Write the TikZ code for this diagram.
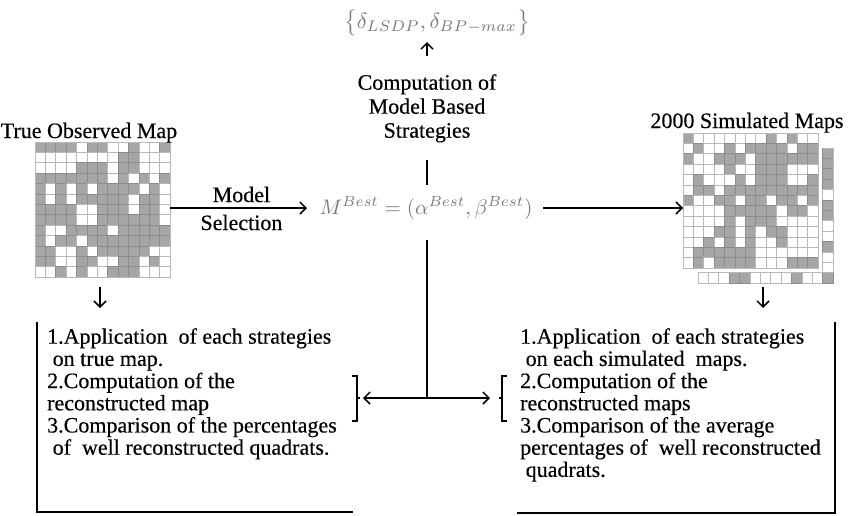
\documentclass[tikz,border=0pt]{standalone}
\usepackage{fontspec}
\setmainfont{Liberation Serif}[FakeBold=0.35]
\usetikzlibrary{arrows.meta}
\definecolor{cellgray}{HTML}{A6A6A6}
\definecolor{mathgray}{HTML}{7A7A7A}
\newcommand{\cellsz}{10.385}
\newcommand{\drawmap}[3]{%
  \foreach \row [count=\r from 0] in {#3} {
    \foreach \v [count=\k from 0] in \row {
      \ifnum\v=1
        \path[cellon] ({#1+\k*\cellsz},{#2+\r*\cellsz}) rectangle ++(\cellsz,\cellsz);
      \else
        \path[celloff] ({#1+\k*\cellsz},{#2+\r*\cellsz}) rectangle ++(\cellsz,\cellsz);
      \fi
    }
  }
}
\tikzset{
  arr/.style={line width=1.5pt, -{Straight Barb[length=6pt,width=12pt,line width=1.5pt]}},
  ln/.style={line width=1.5pt},
  brk/.style={line width=1.2pt},
  celloff/.style={fill=white, draw=black!28, line width=0.7pt},
  cellon/.style={fill=cellgray, draw=black!45, line width=0.7pt},
  lbl/.style={font=\fontsize{22}{24}\selectfont, inner sep=0pt},
  boxtxt/.style={font=\fontsize{22}{22.2}\selectfont, inner sep=0pt, align=left, anchor=north west},
  mth/.style={font=\normalsize, text=mathgray, inner sep=0pt},
  mapbox/.style={minimum width=135pt, minimum height=135pt, inner sep=0pt, anchor=north west},
}
\begin{document}
\begin{tikzpicture}[x=1pt,y=-1pt]
\useasboundingbox (0,0) rectangle (852,515);
\fill[white] (0,0) rectangle (852,515);

% ---- left map
\node[mapbox] (lmap) at (35,142) {};
\drawmap{35}{142}{{1,1,1,1,0,1,1,0,0,1,0,0,1},
{0,0,0,0,0,0,0,0,1,1,0,0,0},
{0,0,0,0,1,1,1,0,1,1,0,0,0},
{1,1,1,1,1,1,1,0,1,0,1,0,1},
{1,0,1,0,1,0,1,1,1,1,0,1,0},
{1,0,1,0,1,1,1,1,1,0,1,1,0},
{1,1,1,1,0,0,1,1,1,0,1,1,0},
{1,1,1,1,0,0,1,1,1,1,1,1,0},
{1,0,0,1,1,1,1,0,1,1,1,1,1},
{1,0,1,1,0,1,1,1,1,1,1,1,1},
{1,1,0,0,1,0,1,1,1,1,1,0,0},
{1,1,0,0,1,1,0,0,1,1,0,1,0},
{0,0,1,0,1,0,0,1,1,1,0,0,0}}
\draw[black!28, line width=0.8pt] (lmap.north west) rectangle (lmap.south east);
\node[lbl, anchor=base] (ltitle) at (89,138) {True Observed Map};

% ---- right maps (back one: visible column and row)
\foreach \v [count=\r from 0] in {1,1,1,1,0,1,1,0,0,1,0,0,1} {
  \ifnum\v=1
    \path[cellon] ({698+12*\cellsz},{148+\r*\cellsz}) rectangle ++(\cellsz,\cellsz);
  \else
    \path[celloff] ({698+12*\cellsz},{148+\r*\cellsz}) rectangle ++(\cellsz,\cellsz);
  \fi
}
\foreach \v [count=\k from 0] in {0,0,0,1,1,0,0,0,0,1,0,0,1} {
  \ifnum\v=1
    \path[cellon] ({698+\k*\cellsz},{148+12*\cellsz}) rectangle ++(\cellsz,\cellsz);
  \else
    \path[celloff] ({698+\k*\cellsz},{148+12*\cellsz}) rectangle ++(\cellsz,\cellsz);
  \fi
}
\draw[black!28, line width=0.8pt] (698,{148+12*\cellsz}) -| (833,148) -- ({698+12*\cellsz},148);
\node[mapbox] (rmap) at (683,133) {};
\drawmap{683}{133}{{1,0,0,0,0,0,0,0,1,0,1,0,0},
{0,1,0,0,1,0,1,1,1,1,0,1,1},
{1,0,0,1,1,1,0,1,1,1,1,1,1},
{0,0,0,0,1,0,0,1,1,1,0,0,0},
{0,1,0,0,0,1,0,1,1,1,0,0,1},
{0,1,1,0,1,1,1,1,1,1,1,1,1},
{1,0,0,1,1,0,1,1,0,1,1,0,1},
{0,0,0,0,1,1,1,1,1,0,1,1,0},
{0,0,0,0,1,0,1,1,1,0,0,0,0},
{0,0,0,1,1,0,1,0,1,1,0,0,0},
{0,0,1,0,1,0,1,0,0,1,0,0,0},
{0,1,1,1,1,1,1,0,0,0,0,0,0},
{0,1,0,1,1,1,1,0,0,0,1,1,1}}
\draw[black!28, line width=0.8pt] (rmap.north west) rectangle (rmap.south east);
\node[lbl, anchor=base] (rtitle) at (747,128) {2000 Simulated Maps};

% ---- centre column
\node[mth, scale=2.2] (delta) at (437,22.5) {$\bigl\{\delta_{LSDP},\delta_{BP-max}\bigr\}$};
\node[lbl, align=center, anchor=north] (comp) at (427,74) {Computation of\\Model Based\\Strategies};
\node[mth, scale=2.1] (mbest) at (426,208) {$M^{Best}=(\alpha^{Best},\beta^{Best})$};
\coordinate (upA) at (427,56);
\coordinate (upB) at (427,42);
\coordinate (sA) at (427,160);
\coordinate (sB) at (427,185);
\coordinate (sC) at (427,240);
\coordinate (sD) at (427,398);
\draw[arr] (upA) -- (upB);
\draw[ln] (sA) -- (sB);
\draw[ln] (sC) -- (sD);

% ---- model selection arrow
\coordinate (msEnd) at (307,208);
\draw[arr] (lmap.east |- msEnd) -- (msEnd) node[lbl, pos=0.52, above=5pt] (msA) {Model} node[lbl, pos=0.52, below=6pt] (msB) {Selection};
\coordinate (rStart) at (543,208);
\draw[arr] (rStart) -- (rStart -| rmap.west);

% ---- down arrows
\coordinate (ldA) at (100,287);
\coordinate (ldB) at (100,308);
\draw[arr] (ldA) -- (ldB);
\coordinate (rdA) at (763,287);
\coordinate (rdB) at (763,308);
\draw[arr] (rdA) -- (rdB);

% ---- left box
\draw[ln] (37,322) -- (37,512) -- (353,512);
\node[boxtxt] (ltext) at (47,328) {1.Application\ \ of each strategies\\
\ on true map.\\
2.Computation of the\\
reconstructed map\\
3.Comparison of the percentages\\
\ of\ \ well reconstructed quadrats.};

% ---- right box
\draw[ln] (835,322) -- (835,513) -- (517,513);
\node[boxtxt] (rtext) at (520,328) {1.Application\ \ of each strategies\\
\ on each simulated\ \ maps.\\
2.Computation of the\\
reconstructed maps\\
3.Comparison of the average\\
percentages of\ \ well reconstructed\\
\ quadrats.};

% ---- brackets and arrows
\draw[brk] (352,376) -- (357,376) -- (357,421) -- (352,421);
\draw[brk] (357,398) -- (360,398);
\draw[brk] (507,376) -- (502,376) -- (502,421) -- (507,421);
\draw[brk] (502,398) -- (499,398);
\coordinate (lbr) at (363,398);
\coordinate (rbr) at (490,398);
\draw[arr] (sD) -- (lbr);
\draw[arr] (sD) -- (rbr);
\end{tikzpicture}
\end{document}
